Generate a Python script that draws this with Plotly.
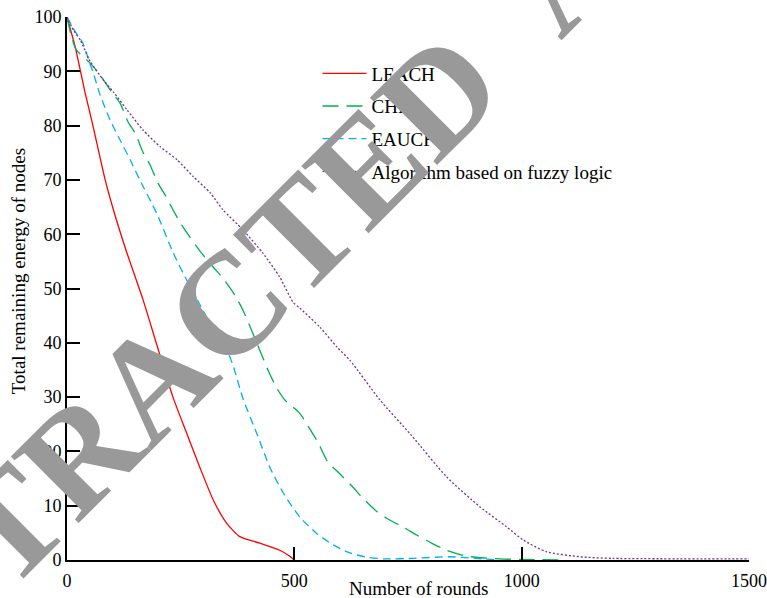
import plotly.graph_objects as go

# ---- data ----
leach_x = [0, 18, 40, 57, 84, 102, 130, 167, 198, 233, 263, 292, 322, 351, 380, 424, 468, 490, 500]
leach_y = [100, 94.5, 86, 80, 70, 64.5, 57, 48, 39.5, 30, 23.4, 17.1, 11, 6.8, 4.3, 3.1, 1.8, 0.7, 0]

chef_x = [0, 8, 20, 50, 73, 98, 117, 134, 150, 167, 183, 200, 216, 233, 252, 296, 321, 343, 369, 387,
          413, 431, 442, 461, 479, 512, 538, 553, 574, 596, 629, 648, 682, 703, 743, 769, 809, 835,
          879, 952, 1000, 1090]
chef_y = [100, 97, 94, 91.6, 89.3, 86.2, 84.1, 80.7, 78.6, 75.1, 72.7, 69.4, 67.2, 64.5, 61.7, 56.5, 54,
          51.9, 48.8, 46, 40.9, 37.2, 35, 31.7, 29.5, 27, 23.6, 21.5, 18, 16.2, 13.4, 11.6, 8.9, 7.7,
          5.9, 4.6, 2.8, 1.8, 0.7, 0.2, 0.1, 0]

eaucf_x = [0, 18, 35, 50, 57, 73, 95, 117, 139, 160, 197, 234, 263, 299, 330, 340, 351, 366, 388, 417,
           446, 476, 512, 549, 585, 622, 660, 700, 760, 840, 900, 950]
eaucf_y = [100, 97.3, 95.2, 91.5, 89.9, 85.6, 81, 77.3, 73.7, 70, 63.9, 56.5, 51.6, 46, 41.1, 39.3,
           38.7, 35.6, 29.5, 23.4, 17.1, 12.3, 7.9, 4.9, 2.8, 1.3, 0.5, 0.2, 0.3, 0.6, 0.3, 0]

fuzzy_x = [0, 14, 29, 51, 80, 102, 132, 167, 205, 242, 278, 315, 343, 387, 431, 468, 497, 512, 556,
           594, 622, 688, 757, 835, 908, 967, 1003, 1055, 1128, 1200, 1500]
fuzzy_y = [100, 97.6, 95.8, 91.8, 88.4, 86.2, 82.9, 79.2, 76.1, 73.7, 70.6, 67.6, 64.5, 60.8, 56.5,
           52.1, 47.5, 46.4, 42.9, 39.2, 36.8, 29.5, 23, 15.3, 9.8, 6.1, 3.7, 1.5, 0.6, 0.3, 0.2]

names = ["LEACH", "CHEF", "EAUCF", "Algorithm based on fuzzy logic"]
x_ticks = [0, 500, 1000, 1500]
y_ticks = [0, 10, 20, 30, 40, 50, 60, 70, 80, 90, 100]

FONT = "Liberation Serif"

fig = go.Figure()
series = [
    (leach_x, leach_y, "#ff0000", "solid"),
    (chef_x, chef_y, "#00b050", "16px,8px"),
    (eaucf_x, eaucf_y, "#00b0f0", "8px,5px"),
    (fuzzy_x, fuzzy_y, "#7030a0", "2px,2px"),
]
for i, ((xs, ys, col, dash), nm) in enumerate(zip(series, names)):
    fig.add_trace(go.Scatter(x=xs, y=ys, mode="lines", name=nm, legendgroup=f"g{i}",
                             line=dict(color=col, width=1.3, dash=dash, shape="spline", smoothing=0.6)))

fig.update_layout(
    width=767, height=598,
    margin=dict(l=67, r=18, t=17, b=38, autoexpand=False),
    paper_bgcolor="white", plot_bgcolor="white",
    font=dict(family=FONT, size=18, color="black"),
    showlegend=True,
    legend=dict(x=0.3673, y=0.931, xanchor="left", yanchor="top", bgcolor="rgba(0,0,0,0)",
                itemwidth=44, tracegroupgap=5, font=dict(family=FONT, size=19)),
    xaxis=dict(range=[0, 1500], tickvals=x_ticks, showgrid=False, zeroline=False,
               showline=True, linecolor="black", linewidth=2, ticks="inside", ticklen=13,
               tickwidth=2, tickcolor="black", ticklabelstandoff=3,
               tickfont=dict(family=FONT, size=18)),
    yaxis=dict(range=[0, 100], tickvals=y_ticks, showgrid=False, zeroline=False,
               showline=True, linecolor="black", linewidth=2, ticks="inside", ticklen=13,
               tickwidth=2, tickcolor="black", tickfont=dict(family=FONT, size=18)),
    annotations=[
        dict(text="Number of rounds", xref="paper", yref="paper", x=0.5147, y=-0.0533,
             xanchor="center", yanchor="middle", showarrow=False, font=dict(family=FONT, size=19)),
        dict(text="Total remaining energy of nodes", xref="paper", yref="paper", x=-0.0718, y=0.532,
             xanchor="center", yanchor="middle", textangle=-90, showarrow=False,
             font=dict(family=FONT, size=19)),
        dict(text="<b>RETRACTED&nbsp;&nbsp;ARTICLE</b>", xref="paper", yref="paper", x=0.504, y=0.806,
             xanchor="center", yanchor="middle", textangle=-45, showarrow=False,
             font=dict(family=FONT, size=145, color="#999999", weight="bold")),
    ],
)

fig.write_html("out.html", config={"displayModeBar": False},
               post_script="document.body.style.margin='0';")
